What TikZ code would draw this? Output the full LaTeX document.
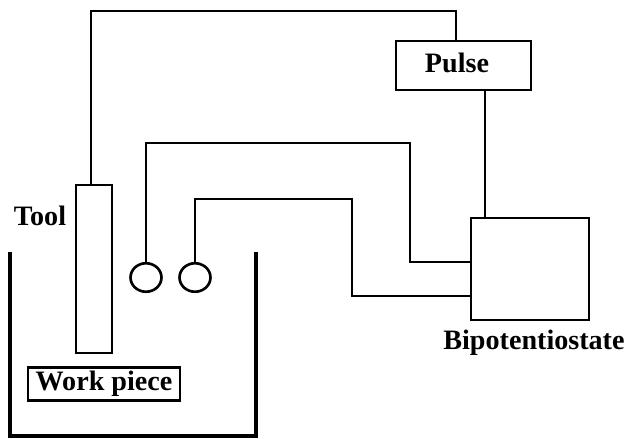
\documentclass[tikz,border=0pt]{standalone}
\usepackage{fontspec}
\usetikzlibrary{shapes.geometric}
\setmainfont{Liberation Serif}
\begin{document}
\begin{tikzpicture}[
            x=0.02cm, y=-0.02cm,
            wire/.style={line width=1.5pt},
            box/.style={rectangle, draw, line width=1.5pt, inner sep=0pt},
            electrode/.style={ellipse, draw, line width=1.5pt, minimum width=0.62cm, minimum height=0.57cm, inner sep=0pt},
            label/.style={font=\fontsize{16}{18}\selectfont\bfseries, inner sep=0pt}
        ]
            \useasboundingbox (0,0) rectangle (627,439);

            \node[box, minimum width=0.72cm, minimum height=3.36cm] (tool) at (94, 269) {};
            \node[box, minimum width=3.04cm, minimum height=0.66cm] (piece) at (104, 384) {};
            \node[box, minimum width=2.7cm, minimum height=0.98cm] (pulse) at (463.5, 65.5) {};
            \node[box, minimum width=2.36cm, minimum height=2.04cm] (bipot) at (530, 269) {};
            \node[electrode] (e1) at (146, 277.5) {};
            \node[electrode] (e2) at (195, 277.5) {};

            \node[label] (tooltext) at (40, 216) {Tool};
            \node[label] (piecetext) at (104, 384) {Work piece};
            \node[label] (pulsetext) at (457, 63) {Pulse};
            \node[label] (bipottext) at (534, 343) {Bipotentiostate};

            \coordinate (toolup) at (91, 185);
            \coordinate (pulsein) at (456, 41);
            \coordinate (pulseout) at (485, 90);
            \coordinate (bipottop) at (485, 218);
            \coordinate (bipotin1) at (471, 262);
            \coordinate (bipotin2) at (471, 296);

            \draw[wire] (toolup) -- (91, 11) -- (456, 11) -- (pulsein);
            \draw[wire] (pulseout) -- (bipottop);
            \draw[wire] (e1.north) -- (146, 143) -- (410, 143) -- (410, 262) -- (bipotin1);
            \draw[wire] (e2.north) -- (195, 199) -- (352, 199) -- (352, 296) -- (bipotin2);

            % vessel
            \coordinate (v1) at (10, 252);
            \coordinate (v2) at (10, 436);
            \coordinate (v3) at (256, 436);
            \coordinate (v4) at (256, 252);
            \draw[line width=2pt] (v1) -- (v2) -- (v3) -- (v4);
        \end{tikzpicture}
\end{document}
